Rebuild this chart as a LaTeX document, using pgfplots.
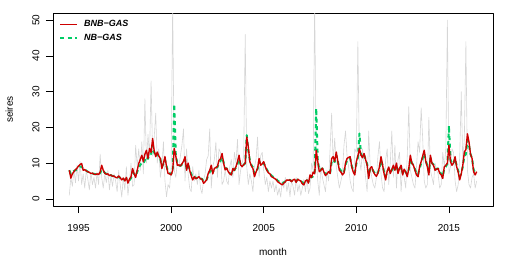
\documentclass[border=0pt]{standalone}
\usepackage{pgfplots}
\pgfplotsset{compat=1.18}
\usepackage{pgfplotstable}
\usepackage{fontspec}
\setmainfont{Liberation Sans}
\definecolor{rgray}{RGB}{214,214,214}
\definecolor{rred}{RGB}{205,0,0}
\definecolor{rgreen}{RGB}{0,205,102}
% monthly values from 1994.5 (Jul 1994) to 2016.5: g = observed, r = BNB-GAS, n = NB-GAS
\pgfplotstableread{
g r n
1.0 8.0 8.0
6.0 5.8 7.0
3.5 7.0 7.4
8.0 7.6 7.8
4.5 8.2 8.0
9.5 8.6 8.3
5.0 9.2 8.8
10.5 9.6 9.0
4.0 9.9 9.0
7.0 8.0 8.4
3.0 8.2 8.2
8.0 7.8 7.9
5.5 7.6 7.6
2.5 7.4 7.4
7.5 7.1 7.2
4.0 7.2 7.1
6.0 6.9 7.0
3.0 6.8 6.9
7.5 7.0 6.9
4.0 6.8 6.9
12.5 7.5 7.2
6.0 9.4 8.2
3.0 8.0 7.8
7.0 7.2 7.3
4.5 6.9 7.0
8.0 7.0 6.9
2.5 6.5 6.7
6.5 6.7 6.6
3.5 6.3 6.4
7.0 6.4 6.3
5.0 6.0 6.1
2.0 5.9 6.0
8.0 6.4 6.1
4.0 5.9 5.9
0.5 5.3 5.6
6.0 5.8 5.6
2.5 5.0 5.3
9.0 6.0 5.6
1.0 4.4 5.0
5.0 5.5 5.2
10.0 6.2 5.8
3.5 8.5 7.4
4.0 7.0 7.0
15.0 6.0 6.5
9.0 8.0 7.5
14.0 9.9 8.8
8.0 11.0 9.5
16.0 12.2 10.0
7.0 10.4 9.8
28.0 12.5 10.8
10.0 13.6 11.8
18.0 11.3 11.2
12.0 14.1 12.5
33.0 13.0 12.5
12.0 16.9 15.0
17.0 13.5 13.0
24.0 11.8 11.8
10.0 13.1 12.5
14.0 12.0 12.0
6.0 11.3 11.2
9.0 8.5 9.0
16.0 10.0 9.8
5.0 11.8 11.0
0.6 9.0 9.2
4.0 7.1 7.6
3.0 7.0 7.2
9.0 6.7 6.9
55.0 8.0 7.8
8.0 14.1 26.5
6.0 12.0 12.5
10.0 9.4 9.8
9.0 9.5 9.5
12.0 9.2 9.2
15.0 9.8 9.6
19.6 10.5 10.2
5.0 11.8 11.0
14.0 8.0 8.5
7.0 10.0 9.5
3.0 8.0 8.2
2.0 6.5 7.0
9.0 5.3 6.0
5.0 6.2 6.2
7.0 5.6 5.8
4.0 5.9 5.9
8.0 6.2 6.1
3.0 5.6 5.7
1.5 5.5 5.6
5.0 4.35 4.9
7.0 4.8 5.0
11.0 5.3 5.4
12.0 7.1 6.5
19.6 8.0 7.5
3.0 9.4 8.6
9.0 7.0 7.5
11.0 8.5 8.2
15.9 8.8 8.6
6.0 9.0 8.9
14.0 10.8 10.0
13.0 11.2 10.6
4.0 12.7 11.6
5.0 10.0 10.2
8.0 8.1 8.6
5.0 8.6 8.5
4.0 7.6 7.8
9.0 7.0 7.2
11.0 6.7 6.9
6.0 8.5 8.0
13.0 8.0 8.0
10.0 9.0 8.8
16.6 10.4 9.8
4.0 12.2 11.2
8.0 9.5 9.6
10.0 9.0 9.2
12.0 9.6 9.5
46.0 10.0 10.0
9.0 17.3 17.8
4.0 14.5 13.5
7.0 10.4 10.8
5.0 9.2 9.5
2.0 8.5 8.8
9.0 6.2 7.0
11.0 7.5 7.6
17.3 8.5 8.4
6.0 11.3 10.5
12.0 9.4 9.5
13.0 9.8 9.7
8.0 10.4 10.0
4.0 9.0 9.0
6.0 8.0 8.2
2.0 7.3 7.5
5.0 7.0 7.1
3.0 6.2 6.5
5.0 6.0 6.2
2.0 5.7 5.9
4.0 5.4 5.6
1.0 4.8 5.1
3.0 4.5 4.8
0.5 4.2 4.5
5.0 3.9 4.3
3.0 4.4 4.6
6.0 4.8 4.9
2.0 5.3 5.2
4.5 5.2 5.2
0.6 5.3 5.3
5.0 4.8 5.0
3.5 5.3 5.3
1.0 5.5 5.4
6.0 4.6 4.9
2.0 5.5 5.4
4.0 5.2 5.2
1.0 5.0 5.1
3.0 4.2 4.6
5.5 3.9 4.4
2.0 5.0 5.0
6.0 5.3 5.2
1.5 4.4 4.8
3.0 6.7 6.2
10.0 6.0 6.0
8.0 7.5 6.3
55.0 7.0 7.0
12.0 13.6 25.3
5.0 10.5 11.0
1.0 7.6 8.0
9.0 8.0 8.2
6.0 8.6 8.5
4.0 7.5 7.7
2.0 6.5 6.9
8.0 7.0 7.1
5.0 7.6 7.5
14.0 7.1 7.2
24.0 11.3 10.2
10.0 11.8 11.0
17.0 10.5 10.3
9.0 13.1 12.2
6.0 10.5 10.5
3.0 8.0 8.5
5.0 7.5 7.9
7.0 6.7 7.2
15.0 7.2 7.5
19.0 10.0 9.5
12.0 11.3 10.8
9.0 11.6 11.2
5.0 11.8 11.3
3.0 9.0 9.3
2.0 7.5 8.0
14.0 6.7 7.3
13.0 10.4 9.8
44.0 12.0 11.5
11.0 14.1 18.3
8.0 12.2 12.6
14.0 11.5 11.8
10.0 12.7 12.4
6.0 11.0 11.0
2.0 9.5 9.8
19.0 5.7 6.8
9.0 8.6 8.3
6.0 9.0 8.7
4.0 7.6 7.8
3.0 6.8 7.2
6.0 6.3 6.8
12.0 7.2 7.3
16.0 9.0 8.6
7.0 11.8 10.8
3.0 9.5 9.4
2.0 7.0 7.5
11.0 5.3 6.2
14.0 7.8 7.6
4.0 8.9 8.4
10.0 7.1 7.4
19.0 8.2 8.0
6.0 9.4 9.0
15.0 8.0 8.2
3.0 10.0 9.5
11.0 7.1 7.6
13.0 8.5 8.3
2.0 9.4 9.0
9.0 6.7 7.2
6.0 8.3 8.0
3.0 7.5 7.5
12.0 6.2 6.8
25.8 8.5 8.2
8.0 12.2 11.2
6.0 10.0 10.0
4.0 9.4 9.4
3.0 8.0 8.3
9.0 6.7 7.2
16.0 6.2 6.8
13.0 9.0 8.5
25.5 10.4 9.9
17.0 12.0 11.4
5.0 13.6 12.7
3.0 10.5 10.6
4.0 9.0 9.3
22.8 6.7 7.4
8.0 12.2 11.4
6.0 10.0 10.0
4.0 9.4 9.6
10.0 8.0 8.4
8.0 8.3 8.4
7.0 8.5 8.5
3.0 7.2 7.5
4.0 6.7 7.0
13.0 5.7 6.3
9.0 9.0 8.5
14.0 9.4 9.0
50.0 10.0 9.8
7.0 15.0 20.5
9.0 10.4 11.0
14.0 9.4 9.8
13.0 10.0 10.1
5.0 11.8 11.3
2.0 9.0 9.3
4.0 7.5 7.9
12.0 5.3 6.2
30.0 7.0 7.2
10.0 9.4 9.0
17.0 13.1 12.0
44.0 13.8 12.5
8.0 18.2 16.5
4.0 15.9 15.0
3.0 12.5 12.5
6.0 11.3 11.3
7.0 7.6 8.2
3.0 6.7 7.3
5.0 7.6 7.7
}\datatab

\begin{document}
\begin{tikzpicture}
\path[use as bounding box] (-53pt,-54pt) rectangle (467pt,206pt);
\begin{axis}[
  at={(0,0)}, anchor=south west,
  scale only axis, width=440pt, height=193pt,
  xmin=1993.62, xmax=2017.38, ymin=-2, ymax=52,
  xtick={1995,2000,2005,2010,2015}, xticklabels={1995,2000,2005,2010,2015},
  ytick={0,10,20,30,40,50}, yticklabels={0,10,20,30,40,50},
  tick align=outside, major tick length=7pt,
  xtick pos=bottom, ytick pos=left,
  tick style={black, line width=0.6pt},
  axis line style={black, line width=0.6pt},
  ticklabel style={font=\fontsize{10}{12}\selectfont},
  yticklabel style={xshift=-3pt, rotate=90, anchor=south},
  xticklabel style={anchor=north, yshift=-8pt},
  xlabel={month}, ylabel={seires},
  label style={font=\fontsize{10}{12}\selectfont},
  xlabel style={at={([yshift=-49.5pt]axis description cs:0.5,0)}, anchor=base},
  ylabel style={at={([xshift=-40pt]axis description cs:0,0.5)}, anchor=base, rotate=0},
  legend style={at={(rel axis cs:0,1)}, anchor=north west, draw=none, fill=none,
    font=\fontsize{9}{10}\selectfont\bfseries\itshape, row sep=1.5pt,
    inner xsep=6pt, inner ysep=5.5pt,
    /tikz/every odd column/.append style={column sep=4pt}},
  legend cell align=left,
  legend image code/.code={\draw[#1] (0pt,0pt) -- (17pt,0pt);},
  line join=round,
]
\addlegendimage{rred, line width=1.4pt}
\addlegendentry{BNB−GAS}
\addlegendimage{rgreen, line width=2pt, dash pattern=on 4pt off 3.5pt}
\addlegendentry{NB−GAS}
\addplot[rgray, line width=0.6pt, forget plot] table[x expr=1994.5+\coordindex/12, y=g]{\datatab};
\addplot[rgreen, line width=2pt, dash pattern=on 4pt off 3.5pt, forget plot] table[x expr=1994.5+\coordindex/12, y=n]{\datatab};
\addplot[rred, line width=1.4pt, forget plot] table[x expr=1994.5+\coordindex/12, y=r]{\datatab};
\end{axis}
\end{tikzpicture}
\end{document}
